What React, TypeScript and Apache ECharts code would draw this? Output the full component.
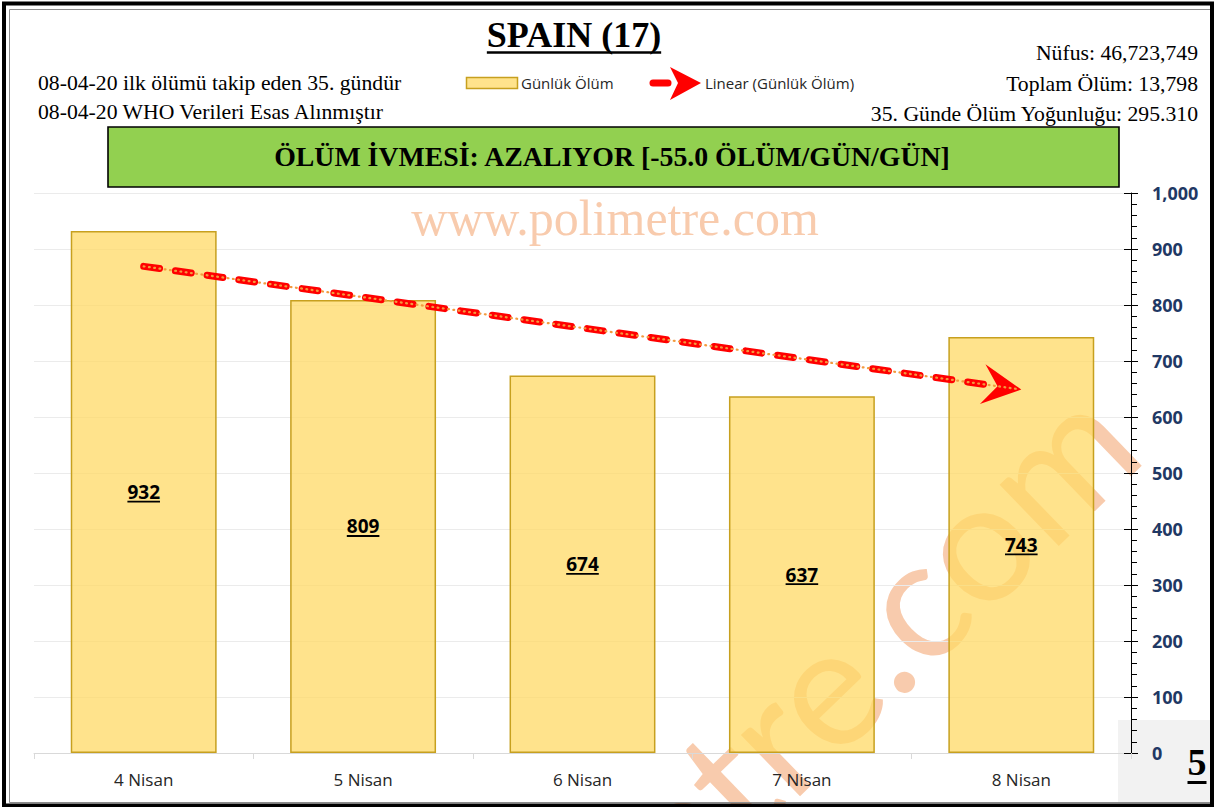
import React, { useEffect, useRef } from 'react';
import * as echarts from 'echarts';

// ---- data ----
const categories = ['4 Nisan', '5 Nisan', '6 Nisan', '7 Nisan', '8 Nisan'];
const dailyDeaths = [932, 809, 674, 637, 743];
const yMin = 0;
const yMax = 1000;
const yInterval = 100;

const titleText = 'SPAIN (17)';
const leftNotes = ['08-04-20 ilk ölümü takip eden 35. gündür', '08-04-20 WHO Verileri Esas Alınmıştır'];
const rightNotes = ['Nüfus: 46,723,749', 'Toplam Ölüm: 13,798', '35. Günde Ölüm Yoğunluğu: 295.310'];
const bannerText = 'ÖLÜM İVMESİ: AZALIYOR [-55.0 ÖLÜM/GÜN/GÜN]';
const legendNames = ['Günlük Ölüm', 'Linear (Günlük Ölüm)'];
const watermarkTop = 'www.polimetre.com';
const watermarkDiag = 'polimetre.com';
const pageNumber = '5';

// linear trend (least squares) of the daily values, as in the original "Linear" trendline
function linearTrend(values: number[]) {
  const n = values.length;
  const xs = values.map((_, i) => i);
  const mx = xs.reduce((a, b) => a + b, 0) / n;
  const my = values.reduce((a, b) => a + b, 0) / n;
  let sxy = 0;
  let sxx = 0;
  for (let i = 0; i < n; i++) {
    sxy += (xs[i] - mx) * (values[i] - my);
    sxx += (xs[i] - mx) * (xs[i] - mx);
  }
  const slope = sxy / sxx;
  const intercept = my - slope * mx;
  return { slope, intercept };
}

const SERIF = '"Liberation Serif", "Times New Roman", serif';
const SANS = '"Open Sans", "Noto Sans", sans-serif';
const BAR_FILL = 'rgba(255,217,102,0.75)';
const BAR_BORDER = '#c7a01f';
const WM_COLOR = 'rgba(237,125,49,0.4)';

let measureCtx: CanvasRenderingContext2D | null = null;
function textWidth(text: string, font: string) {
  if (!measureCtx) {
    measureCtx = document.createElement('canvas').getContext('2d');
  }
  if (!measureCtx) return text.length * 10;
  measureCtx.font = font;
  return measureCtx.measureText(text).width;
}

export default function App() {
  const ref = useRef<HTMLDivElement>(null);

  useEffect(() => {
    document.body.style.margin = '0';
    if (!ref.current) return;
    const chart = echarts.init(ref.current, undefined, { renderer: 'svg' });

    const { slope, intercept } = linearTrend(dailyDeaths);
    const lastIdx = dailyDeaths.length - 1;
    const trendData = [[0, intercept, lastIdx, intercept + slope * lastIdx]];

    const titleFont = `bold 36px ${SERIF}`;
    const titleW = textWidth(titleText, titleFont);
    const titleX = 574;
    const pageFont = `bold 38px ${SERIF}`;
    const pageW = textWidth(pageNumber, pageFont);
    const labelFont = `bold 19px ${SANS}`;
    const noteFont = `21.7px ${SERIF}`;
    const legendFont = `15px ${SANS}`;

    // diagonal watermark placement: centre of the "o" of ".com" sits near (990, 552)
    const diagSize = 168;
    const diagFont = `${diagSize}px Lato, ${SANS}`;
    const diagRot = (44 * Math.PI) / 180;
    const ux = Math.cos(diagRot);
    const uy = -Math.sin(diagRot);
    const dxv = Math.sin(diagRot);
    const dyv = Math.cos(diagRot);
    const oCenter = [988, 556];
    const xh = 0.506 * diagSize;
    const oBase = [oCenter[0] + (xh / 2) * dxv, oCenter[1] + (xh / 2) * dyv];
    const sO = textWidth('polimetre.c', diagFont) + textWidth('o', diagFont) / 2;
    const diagStart = [oBase[0] - sO * ux, oBase[1] - sO * uy];

    const option: any = {
      animation: false,
      backgroundColor: '#ffffff',
      grid: { left: 34, right: 83, top: 193, bottom: 54, containLabel: false },
      xAxis: {
        type: 'category',
        data: categories,
        axisLine: { show: true, lineStyle: { color: '#d9d9d9', width: 1 } },
        axisTick: { show: true, length: 6, lineStyle: { color: '#d9d9d9' } },
        axisLabel: { color: '#262626', fontSize: 17, fontFamily: SANS, margin: 18 },
        splitLine: { show: false },
      },
      yAxis: [
        {
          type: 'value',
          position: 'right',
          min: yMin,
          max: yMax,
          interval: yInterval,
          axisLine: { show: true, lineStyle: { color: '#000', width: 1 } },
          axisTick: { show: true, length: 7, lineStyle: { color: '#000', width: 1 } },
          minorTick: { show: true, splitNumber: 5, length: 6, lineStyle: { color: '#000', width: 1 } },
          splitLine: { show: true, lineStyle: { color: '#ebebeb', width: 1 } },
          axisLabel: {
            margin: 21,
            color: '#1f3864',
            fontWeight: 'bold',
            fontSize: 18,
            fontFamily: SANS,
            formatter: (v: number) => v.toLocaleString('en-US'),
          },
        },
        {
          type: 'value',
          position: 'right',
          min: yMin,
          max: yMax,
          interval: yInterval,
          axisLine: { show: false },
          axisTick: { show: true, inside: true, length: 7, lineStyle: { color: '#000', width: 1 } },
          axisLabel: { show: false },
          splitLine: { show: false },
        },
      ],
      series: [
        {
          name: legendNames[0],
          type: 'bar',
          data: dailyDeaths,
          barWidth: '66.5%',
          itemStyle: { color: BAR_FILL, borderColor: BAR_BORDER, borderWidth: 1.5 },
          z: 2,
        },
        {
          name: 'labels',
          type: 'custom',
          data: dailyDeaths.map((v, i) => [i, v]),
          z: 4,
          renderItem: (_params: any, api: any) => {
            const v = api.value(1);
            const p = api.coord([api.value(0), v / 2]);
            const txt = String(v);
            const w = textWidth(txt, labelFont);
            return {
              type: 'group',
              children: [
                {
                  type: 'text',
                  x: p[0],
                  y: p[1],
                  style: {
                    text: txt,
                    font: labelFont,
                    fill: '#000',
                    align: 'center',
                    verticalAlign: 'middle',
                    textAlign: 'center',
                    textVerticalAlign: 'middle',
                  },
                },
                {
                  type: 'line',
                  shape: { x1: p[0] - w / 2, y1: p[1] + 9.5, x2: p[0] + w / 2, y2: p[1] + 9.5 },
                  style: { stroke: '#000', lineWidth: 1.8 },
                },
              ],
            };
          },
        },
        {
          name: legendNames[1],
          type: 'custom',
          data: trendData,
          z: 5,
          renderItem: (_params: any, api: any) => {
            const p1 = api.coord([api.value(0), api.value(1)]);
            const p2 = api.coord([api.value(2), api.value(3)]);
            const dx = p2[0] - p1[0];
            const dy = p2[1] - p1[1];
            const len = Math.sqrt(dx * dx + dy * dy);
            const ex = dx / len;
            const ey = dy / len;
            const nx = -ey;
            const ny = ex;
            const at = (a: number, b: number) => [p2[0] + a * ex + b * nx, p2[1] + a * ey + b * ny];
            const redEnd = at(-25, 0);
            const dotEnd = at(-4, 0);
            return {
              type: 'group',
              children: [
                {
                  type: 'line',
                  shape: { x1: p1[0], y1: p1[1], x2: redEnd[0], y2: redEnd[1] },
                  style: { stroke: '#ff0000', lineWidth: 7, lineDash: [16, 16], lineCap: 'round' },
                },
                {
                  type: 'polygon',
                  shape: { points: [at(0, 0), at(-39, -20), at(-24, 0), at(-39, 20)] },
                  style: { fill: '#ff0000' },
                },
                {
                  type: 'line',
                  shape: { x1: p1[0], y1: p1[1], x2: dotEnd[0], y2: dotEnd[1] },
                  style: { stroke: '#f39a3e', lineWidth: 2.2, lineDash: [0.8, 4.5], lineCap: 'round' },
                },
              ],
            };
          },
        },
      ],
      graphic: [
        // watermarks (under grid lines / bars)
        {
          type: 'text',
          z: -1,
          x: 615,
          y: 218,
          style: {
            text: watermarkTop,
            font: `50px ${SERIF}`,
            fill: WM_COLOR,
            align: 'center',
            verticalAlign: 'middle',
            textAlign: 'center',
            textVerticalAlign: 'middle',
          },
        },
        {
          type: 'text',
          z: -1,
          x: diagStart[0],
          y: diagStart[1],
          rotation: diagRot,
          style: {
            x: 0,
            y: -0.387 * diagSize,
            text: watermarkDiag,
            font: diagFont,
            fill: WM_COLOR,
            align: 'left',
            verticalAlign: 'middle',
            textAlign: 'left',
            textVerticalAlign: 'middle',
          },
        },
        // bottom-right grey box
        {
          type: 'rect',
          z: -2,
          shape: { x: 1118, y: 720, width: 93, height: 83 },
          style: { fill: '#f2f2f2' },
        },
        // title
        {
          type: 'text',
          z: 10,
          x: titleX,
          y: 35,
          style: {
            text: titleText,
            font: titleFont,
            fill: '#000',
            align: 'center',
            verticalAlign: 'middle',
            textAlign: 'center',
            textVerticalAlign: 'middle',
          },
        },
        {
          type: 'line',
          z: 10,
          shape: { x1: titleX - titleW / 2, y1: 52.5, x2: titleX + titleW / 2, y2: 52.5 },
          style: { stroke: '#000', lineWidth: 2.5 },
        },
        // left notes
        ...leftNotes.map((t, i) => ({
          type: 'text',
          z: 10,
          x: 38,
          y: i === 0 ? 83 : 112,
          style: {
            text: t,
            font: noteFont,
            fill: '#000',
            align: 'left',
            verticalAlign: 'middle',
            textAlign: 'left',
            textVerticalAlign: 'middle',
          },
        })),
        // right notes
        ...rightNotes.map((t, i) => ({
          type: 'text',
          z: 10,
          x: 1198,
          y: 53 + i * 30.5,
          style: {
            text: t,
            font: noteFont,
            fill: '#000',
            align: 'right',
            verticalAlign: 'middle',
            textAlign: 'right',
            textVerticalAlign: 'middle',
          },
        })),
        // legend: bar
        {
          type: 'rect',
          z: 10,
          shape: { x: 466.5, y: 77.5, width: 51, height: 11 },
          style: { fill: BAR_FILL, stroke: BAR_BORDER, lineWidth: 1.5 },
        },
        {
          type: 'text',
          z: 10,
          x: 521,
          y: 83,
          style: {
            text: legendNames[0],
            font: legendFont,
            fill: '#262626',
            align: 'left',
            verticalAlign: 'middle',
            textAlign: 'left',
            textVerticalAlign: 'middle',
          },
        },
        // legend: trend line
        {
          type: 'line',
          z: 10,
          shape: { x1: 653, y1: 83, x2: 668, y2: 83 },
          style: { stroke: '#ff0000', lineWidth: 7, lineCap: 'round' },
        },
        {
          type: 'polygon',
          z: 10,
          shape: { points: [[701, 83], [670, 67], [678, 83], [670, 100]] },
          style: { fill: '#ff0000' },
        },
        {
          type: 'text',
          z: 10,
          x: 705,
          y: 83,
          style: {
            text: legendNames[1],
            font: legendFont,
            fill: '#262626',
            align: 'left',
            verticalAlign: 'middle',
            textAlign: 'left',
            textVerticalAlign: 'middle',
          },
        },
        // green banner
        {
          type: 'rect',
          z: 10,
          shape: { x: 108, y: 127, width: 1011, height: 60 },
          style: { fill: '#92d050', stroke: '#000', lineWidth: 1.6 },
        },
        {
          type: 'text',
          z: 11,
          x: 612,
          y: 156,
          style: {
            text: bannerText,
            font: `bold 27.8px ${SERIF}`,
            fill: '#000',
            align: 'center',
            verticalAlign: 'middle',
            textAlign: 'center',
            textVerticalAlign: 'middle',
          },
        },
        // page number
        {
          type: 'text',
          z: 10,
          x: 1197,
          y: 762,
          style: {
            text: pageNumber,
            font: pageFont,
            fill: '#000',
            align: 'center',
            verticalAlign: 'middle',
            textAlign: 'center',
            textVerticalAlign: 'middle',
          },
        },
        {
          type: 'line',
          z: 10,
          shape: { x1: 1197 - pageW / 2, y1: 782.5, x2: 1197 + pageW / 2, y2: 782.5 },
          style: { stroke: '#000', lineWidth: 3 },
        },
        // frame
        {
          type: 'rect',
          z: 20,
          shape: { x: 9.5, y: 9.5, width: 1201, height: 793 },
          style: { fill: 'none', stroke: '#8c8c8c', lineWidth: 1 },
        },
        {
          type: 'rect',
          z: 20,
          shape: { x: 4, y: 3.5, width: 1208, height: 802 },
          style: { fill: 'none', stroke: '#000', lineWidth: 4 },
        },
      ],
    };

    chart.setOption(option);
    return () => {
      chart.dispose();
    };
  }, []);

  return <div ref={ref} style={{ width: 1214, height: 807 }} />;
}
